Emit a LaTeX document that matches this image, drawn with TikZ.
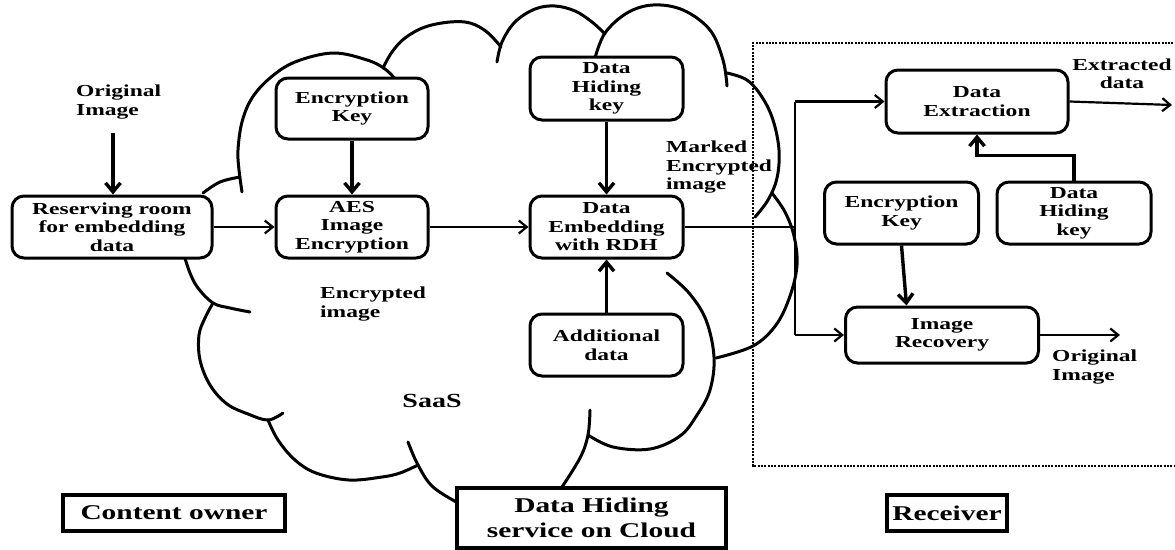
\documentclass[tikz,border=0pt]{standalone}
\usepackage{fontspec}
\setmainfont{Liberation Serif}[FakeStretch=1.4]
\usetikzlibrary{arrows.meta,calc}
\tikzset{
  rbox/.style={draw, line width=3pt, rounded corners=12pt, fill=white, align=center, inner sep=0pt,
    font=\bfseries\fontsize{16.8}{18.5}\selectfont},
  lbox/.style={draw, line width=3.2pt, fill=white, align=center, inner sep=0pt,
    font=\bfseries\fontsize{21}{25}\selectfont},
  lbl/.style={align=left, inner sep=0pt, font=\bfseries\fontsize{16.8}{18.5}\selectfont},
  cloudline/.style={line width=3pt, line cap=round},
  thickarr/.style={line width=3.4pt, -{Straight Barb[length=9pt,width=15pt]}},
  thinarr/.style={line width=2.2pt, -{Straight Barb[length=8pt,width=13pt]}},
  dotbox/.style={line width=2.6pt, dash pattern=on 2pt off 1.3pt}
}
\begin{document}
\begin{tikzpicture}[x=1pt,y=-1pt]
\useasboundingbox (0,0) rectangle (1175,549);
% cloud outline
\draw[cloudline] plot[smooth,tension=0.6] coordinates {(203,193) (220,182) (240,177)};
\draw[cloudline] plot[smooth,tension=0.6] coordinates {(242,192) (239,170) (238,150) (242,122) (252,98) (270,78) (295,62) (333,53) (367,60) (385,69) (398,82)};
\draw[cloudline] plot[smooth,tension=0.6] coordinates {(383,68) (392,52) (405,38) (425,27) (450,22) (470,23) (487,32) (501,47)};
\draw[cloudline] plot[smooth,tension=0.6] coordinates {(497,62) (502,42) (515,22) (535,9) (555,6) (575,11) (592,22) (605,34)};
\draw[cloudline] plot[smooth,tension=0.6] coordinates {(595,58) (605,33) (627,13) (653,5) (683,10) (710,30) (723,60) (727,86)};
\draw[cloudline] plot[smooth,tension=0.6] coordinates {(727,73) (747,80) (762,97) (773,120) (779,150) (777,178) (768,200) (755,217)};
\draw[cloudline] plot[smooth,tension=0.6] coordinates {(772,193) (785,212) (794,236) (797,265) (790,296) (776,325) (753,346) (716,358)};
\draw[cloudline] plot[smooth,tension=0.6] coordinates {(667,273) (689,293) (706,320) (714,357) (710,390) (697,415) (680,436) (650,449) (613,447) (588,435)};
\draw[cloudline] plot[smooth,tension=0.6] coordinates {(590,410) (588,435) (580,458) (560,490)};
\draw[cloudline] plot[smooth,tension=0.6] coordinates {(408,442) (418,465) (433,487) (460,504)};
\draw[cloudline] plot[smooth,tension=0.6] coordinates {(418,465) (400,473) (382,477) (349,480) (316,473) (295,460) (278,440) (268,420)};
\draw[cloudline] plot[smooth,tension=0.6] coordinates {(283,413) (268,420) (248,414) (227,404) (210,385) (200,360) (199,335) (205,318) (213,303)};
\draw[cloudline] plot[smooth,tension=0.6] coordinates {(250,312) (230,308) (213,303) (198,288) (190,273) (184,255)};
% receiver dotted frame
\draw[dotbox] (1180,43) -- (753,43) -- (753,466) -- (1180,466);
% boxes
\node[rbox, minimum width=200pt, minimum height=62pt] (res) at (112,227) {Reserving room\\for embedding\\data};
\node[rbox, minimum width=152pt, minimum height=61pt] (ek1) at (352,108.5) {Encryption\\Key};
\node[rbox, minimum width=152pt, minimum height=62pt] (aes) at (352,227) {AES\\Image\\Encryption};
\node[rbox, minimum width=153pt, minimum height=63pt] (dhk1) at (606.5,88.5) {Data\\Hiding\\key};
\node[rbox, minimum width=153pt, minimum height=62pt] (emb) at (606.5,227) {Data\\Embedding\\with RDH};
\node[rbox, minimum width=153pt, minimum height=62pt] (add) at (606.5,345) {Additional\\data};
\node[rbox, minimum width=182pt, minimum height=63pt] (ext) at (977,101.5) {Data\\Extraction};
\node[rbox, minimum width=154pt, minimum height=62pt] (ek2) at (901.5,213) {Encryption\\Key};
\node[rbox, minimum width=154pt, minimum height=62pt] (dhk2) at (1074,213) {Data\\Hiding\\key};
\node[rbox, minimum width=193pt, minimum height=56pt] (rec) at (942,335) {Image\\Recovery};
% bottom labels
\node[lbox, minimum width=222pt, minimum height=36pt] (co) at (174,513) {Content owner};
\node[lbox, minimum width=269pt, minimum height=60pt] (dh) at (591.5,518) {Data Hiding\\service on Cloud};
\node[lbox, minimum width=120pt, minimum height=36pt] (rv) at (947,513) {Receiver};
% texts
\node[lbl, anchor=north west] (orig) at (76,85) {Original\\Image};
\node[lbl, anchor=north west] (mei) at (666,141) {Marked\\Encrypted\\image};
\node[lbl, anchor=north west] (ei) at (320,287) {Encrypted\\image};
\node[inner sep=0pt, font=\bfseries\fontsize{20}{24}\selectfont] (saas) at (432,401) {SaaS};
\node[lbl, align=center] (xd) at (1122,74) {Extracted\\data};
\node[lbl, anchor=north west] (oi) at (1052,350) {Original\\Image};
% connectors
\coordinate (o1) at (113,133);
\coordinate (j) at (795,227);
\coordinate (xo) at (1172,105);
\coordinate (ro) at (1120,335);
\draw[thickarr] (o1) -- (o1 |- res.north);
\draw[thinarr] (res.east) -- (aes.west);
\draw[thickarr] (ek1.south) -- (aes.north);
\draw[thinarr] (aes.east) -- (emb.west);
\draw[thickarr] (dhk1.south) -- (emb.north);
\draw[thickarr] (add.north) -- (emb.south);
\draw[line width=2.2pt] (emb.east) -- (j);
\draw[line width=2.8pt] (j |- ext.west) -- (j |- rec.west);
\draw[thinarr] (j |- ext.west) -- (ext.west);
\draw[thinarr] (j |- rec.west) -- (rec.west);
\draw[thinarr] (ext.east) -- (xo);
\draw[thinarr] (rec.east) -- (ro);
\draw[thickarr] (ek2.south) -- ($(ek2.south |- rec.north)+(5,0)$);
\draw[thickarr] (dhk2.north) -- ++(0,-25) -| (ext.south);
\end{tikzpicture}
\end{document}
